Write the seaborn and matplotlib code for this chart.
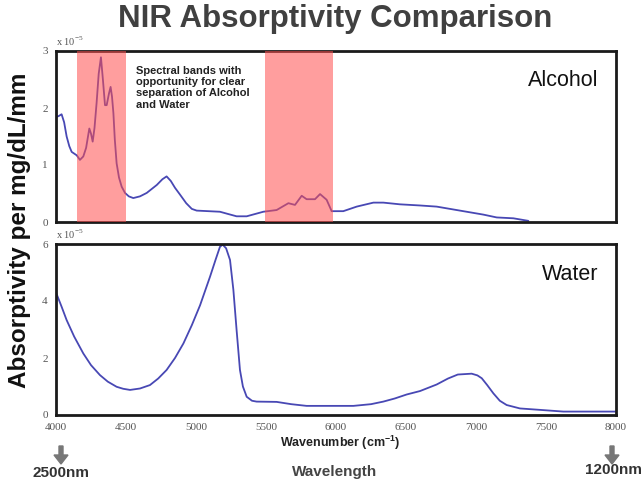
import numpy as np
import pandas as pd
import matplotlib
matplotlib.use("Agg")
import matplotlib.pyplot as plt
import seaborn as sns

# ---- data (absorptivity in units of 1e-5 per mg/dL/mm) ----
alcohol_wavenumber = [4000, 4020, 4040, 4058, 4076, 4095, 4112, 4148, 4171, 4195,
                      4215, 4238, 4250, 4262, 4275, 4290, 4305, 4321, 4335, 4350,
                      4362, 4378, 4390, 4400, 4410, 4420, 4433, 4450, 4469, 4493,
                      4520, 4552, 4600, 4648, 4720, 4760, 4790, 4820, 4850, 4886,
                      4930, 4970, 5005, 5171, 5230, 5290, 5362, 5481, 5576, 5660,
                      5707, 5755, 5790, 5850, 5886, 5933, 5969, 6052, 6148, 6267,
                      6338, 6457, 6600, 6719, 6814, 6933, 7052, 7148, 7267, 7374]
alcohol_absorptivity = [1.84, 1.86, 1.89, 1.75, 1.50, 1.33, 1.23, 1.17, 1.09, 1.15,
                        1.30, 1.64, 1.55, 1.41, 1.65, 2.09, 2.60, 2.89, 2.50, 2.05,
                        2.05, 2.25, 2.37, 2.20, 1.91, 1.45, 1.03, 0.78, 0.62, 0.51,
                        0.45, 0.42, 0.45, 0.51, 0.65, 0.75, 0.80, 0.72, 0.60, 0.48,
                        0.33, 0.23, 0.20, 0.18, 0.14, 0.10, 0.10, 0.18, 0.21, 0.33,
                        0.30, 0.46, 0.40, 0.40, 0.49, 0.39, 0.19, 0.19, 0.27, 0.34,
                        0.34, 0.31, 0.29, 0.27, 0.23, 0.18, 0.13, 0.08, 0.065, 0.02]

water_wavenumber = [4000, 4040, 4076, 4130, 4195, 4250, 4314, 4370, 4433, 4480,
                    4529, 4600, 4671, 4730, 4790, 4850, 4910, 4970, 5029, 5100,
                    5140, 5171, 5190, 5215, 5243, 5267, 5290, 5314, 5335, 5362,
                    5400, 5433, 5576, 5680, 5790, 6124, 6250, 6338, 6420, 6505,
                    6600, 6719, 6800, 6870, 6969, 7010, 7041, 7080, 7124, 7170,
                    7219, 7314, 7457, 7624, 8000]
water_absorptivity = [4.30, 3.80, 3.33, 2.75, 2.16, 1.75, 1.40, 1.17, 0.99, 0.92,
                      0.88, 0.93, 1.05, 1.28, 1.58, 2.00, 2.51, 3.15, 3.85, 4.85,
                      5.45, 5.90, 5.98, 5.85, 5.44, 4.39, 2.98, 1.58, 1.00, 0.64,
                      0.50, 0.47, 0.46, 0.38, 0.32, 0.32, 0.38, 0.47, 0.58, 0.72,
                      0.84, 1.07, 1.28, 1.42, 1.45, 1.39, 1.29, 1.05, 0.76, 0.50,
                      0.35, 0.23, 0.18, 0.12, 0.12]

band_starts = [4150, 5490]
band_ends = [4500, 5975]

x_ticks = [4000, 4500, 5000, 5500, 6000, 6500, 7000, 7500, 8000]
alcohol_yticks = [0, 1, 2, 3]
water_yticks = [0, 2, 4, 6]

alcohol_df = pd.DataFrame({"wavenumber": alcohol_wavenumber, "absorptivity": alcohol_absorptivity})
water_df = pd.DataFrame({"wavenumber": water_wavenumber, "absorptivity": water_absorptivity})

sns.set_style("white")
plt.rcParams["font.family"] = ["Liberation Sans", "DejaVu Sans"]

fig = plt.figure(figsize=(6.44, 4.83), dpi=100)
W, H = 644, 483
def rect(x0, y0, x1, y1):
    return [x0 / W, 1 - y1 / H, (x1 - x0) / W, (y1 - y0) / H]

ax1 = fig.add_axes(rect(56, 51, 616, 222))
ax2 = fig.add_axes(rect(56, 244, 616, 415))

line_color = "#4848b4"
serif = ["Liberation Serif", "DejaVu Serif"]

sns.lineplot(data=alcohol_df, x="wavenumber", y="absorptivity", ax=ax1,
             color=line_color, linewidth=1.3, estimator=None, sort=False)
sns.lineplot(data=water_df, x="wavenumber", y="absorptivity", ax=ax2,
             color=line_color, linewidth=1.3, estimator=None, sort=False)

for s, e in zip(band_starts, band_ends):
    ax1.axvspan(s, e, color="#ff4f4f", alpha=0.55, lw=0, zorder=3)

for ax, yt in ((ax1, alcohol_yticks), (ax2, water_yticks)):
    ax.set_xlim(4000, 8000)
    ax.set_ylim(yt[0], yt[-1])
    ax.set_xticks(x_ticks)
    ax.set_yticks(yt)
    ax.set_xlabel("")
    ax.set_ylabel("")
    for sp in ax.spines.values():
        sp.set_visible(True)
        sp.set_linewidth(2)
        sp.set_color("#1a1a1a")
    ax.tick_params(axis="both", direction="in", length=4, width=0.8, color="#666666",
                   labelsize=8, labelcolor="#555555", pad=6)
    for lab in ax.get_xticklabels() + ax.get_yticklabels():
        lab.set_fontfamily(serif)
    ax.text(0.0, 1.02, r"x 10$^{\mathregular{-5}}$", transform=ax.transAxes,
            fontsize=7.5, color="#555555", family=serif, ha="left", va="bottom")

ax1.set_xticklabels([])

ax1.text(0.968, 0.83, "Alcohol", transform=ax1.transAxes, fontsize=15.5,
         color="#111111", ha="right", va="center")
ax2.text(0.968, 0.82, "Water", transform=ax2.transAxes, fontsize=15.5,
         color="#111111", ha="right", va="center")

fig.text(136 / W, 1 - 66 / H,
         "Spectral bands with\nopportunity for clear\nseparation of Alcohol\nand Water",
         fontsize=8, fontweight="bold", color="#222222", ha="left", va="top",
         linespacing=1.15)

fig.text(335 / W, 1 - 19 / H, "NIR Absorptivity Comparison", fontsize=22.5,
         fontweight="bold", color="#404040", ha="center", va="center")
fig.text(20 / W, 1 - 230 / H, "Absorptivity per mg/dL/mm", fontsize=17.5,
         fontweight="bold", color="#111111", ha="center", va="center", rotation=90)
fig.text(340 / W, 1 - 443 / H, "Wavenumber (cm$^{\\mathregular{-1}}$)", fontsize=9,
         fontweight="bold", color="#222222", ha="center", va="center")
fig.text(335 / W, 1 - 472 / H, "Wavelength", fontsize=11,
         fontweight="bold", color="#444444", ha="center", va="center")
fig.text(61 / W, 1 - 473 / H, "2500nm", fontsize=11,
         fontweight="bold", color="#333333", ha="center", va="center")
fig.text(642 / W, 1 - 470 / H, "1200nm", fontsize=11,
         fontweight="bold", color="#333333", ha="right", va="center")

for xa in (61, 612):
    fig.patches.append(matplotlib.patches.FancyArrow(
        xa / W, 1 - 446 / H, 0, -18 / H, width=4 / W, head_width=14 / W,
        head_length=9 / H, length_includes_head=True, color="#777777",
        transform=fig.transFigure, figure=fig))

fig.savefig("out.png", dpi=100)
